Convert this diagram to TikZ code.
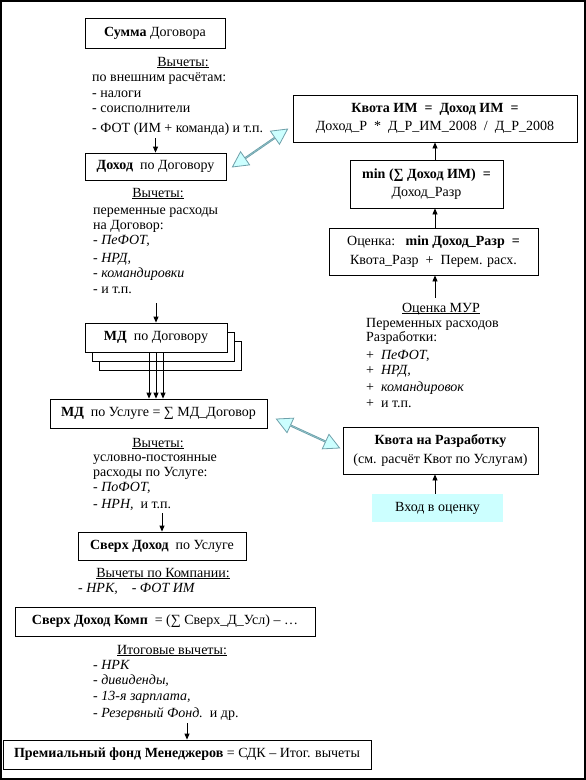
\documentclass[tikz,border=0pt]{standalone}
\usepackage{fontspec}
\setmainfont{Liberation Serif}
\usetikzlibrary{arrows.meta,shapes.arrows,calc}
\definecolor{lcyan}{RGB}{204,255,255}
\definecolor{arrline}{RGB}{110,160,170}
\newcommand{\ulx}[1]{\underline{\smash{#1}}}
\newcommand{\dblconn}[2]{\path let \p1=($(#2)-(#1)$), \n1={atan2(\y1,\x1)}, \n2={veclen(\x1,\y1)} in node[dbl, rotate=\n1, minimum height=\n2] (#1#2) at ($(#1)!0.5!(#2)$) {};}
\begin{document}
\begin{tikzpicture}[x=1pt,y=-1pt, font=\fontsize{14}{18.5}\selectfont,
 box/.style={draw, line width=0.8pt, fill=white, inner sep=0pt, align=center},
 lbl/.style={anchor=base west, inner sep=0pt},
 hd/.style={anchor=base, inner sep=0pt},
 arr/.style={line width=0.8pt, -{Triangle[length=6pt,width=5pt]}},
 dbl/.style={double arrow, draw=arrline, fill=lcyan, line width=0.8pt, inner sep=0pt, minimum width=16pt, double arrow head extend=4.5pt, double arrow tip angle=55},
 frame/.style={line width=2pt}
]
\useasboundingbox (0,0) rectangle (586,780);
\draw[frame] (1,1) rectangle (584.5,778.5);

% left column boxes
\node[box, minimum width=140pt, minimum height=30pt] (summa) at (155,33) {\textbf{Сумма} Договора};
\node[box, minimum width=141pt, minimum height=27pt] (dohod) at (155.5,166.5) {\textbf{Доход}\ \ по Договору};
\node[box, minimum width=142pt, minimum height=29pt] (md3) at (170,355.5) {\textbf{МД}\ \ по Договору};
\node[box, minimum width=142pt, minimum height=29pt] (md2) at (163,346.5) {\textbf{МД}\ \ по Договору};
\node[box, minimum width=142pt, minimum height=29pt] (md) at (156,337.5) {\textbf{МД}\ \ по Договору};
\node[box, minimum width=217pt, minimum height=29pt] (mdusl) at (158.5,413.5) {\textbf{МД}\ \ по Услуге = ∑ МД\_Договор};
\node[box, minimum width=168pt, minimum height=28pt] (sverh) at (162,546) {\textbf{Сверх Доход}\ \ по Услуге};
\node[box, minimum width=300pt, minimum height=29pt] (sverhkomp) at (165,621.5) {\textbf{Сверх Доход Комп}\ \ = (∑ Сверх\_Д\_Усл) – …};
\node[box, minimum width=368pt, minimum height=29pt] (prem) at (187,754.5) {\textbf{Премиальный фонд Менеджеров} = СДК – Итог. вычеты};

% right column boxes
\node[box, minimum width=284pt, minimum height=47pt] (kvotaIM) at (435,118.5) {\textbf{Квота ИМ\ \ =\ \ Доход ИМ\ \ =}\\Доход\_Р\ \ *\ \ Д\_Р\_ИМ\_2008\ \ /\ \ Д\_Р\_2008};
\node[box, minimum width=153pt, minimum height=48pt] (minb) at (426.5,184) {\textbf{min (∑ Доход ИМ)\ \ =}\\Доход\_Разр};
\node[box, minimum width=209pt, minimum height=47pt] (ocenka) at (433.5,251.5) {Оценка:\ \ \ \textbf{min Доход\_Разр\ \ =}\\Квота\_Разр\ \ +\ \ Перем. расх.};
\node[box, minimum width=195pt, minimum height=47pt] (kvotaRaz) at (440.5,450.5) {\textbf{Квота на Разработку}\\(см. расчёт Квот по Услугам)};
\node[fill=lcyan, inner sep=0pt, minimum width=131pt, minimum height=28pt] (vhod) at (437.5,508) {Вход в оценку};

% block 1
\node[hd] (h1) at (183,66) {\ulx{Вычеты:}};
\node[lbl] (l11) at (92,81) {по внешним расчётам:};
\node[lbl] (l12) at (92,97) {- налоги};
\node[lbl] (l13) at (92,112) {- соисполнители};
\node[lbl] (l14) at (92,132) {- ФОТ (ИМ + команда) и т.п.};

% block 2
\node[hd] (h2) at (158,197) {\ulx{Вычеты:}};
\node[lbl] (l21) at (93,214) {переменные расходы};
\node[lbl] (l22) at (93,229) {на Договор:};
\node[lbl] (l23) at (93,244) {- \textit{ПеФОТ,}};
\node[lbl] (l24) at (93,262) {- \textit{НРД,}};
\node[lbl] (l25) at (93,277) {- \textit{командировки}};
\node[lbl] (l26) at (93,293) {- и т.п.};

% block 3
\node[hd] (h3) at (158,447) {\ulx{Вычеты:}};
\node[lbl] (l31) at (93,461) {условно-постоянные};
\node[lbl] (l32) at (93,476) {расходы по Услуге:};
\node[lbl] (l33) at (93,491) {- \textit{ПоФОТ,}};
\node[lbl] (l34) at (93,508) {- \textit{НРН,}\ \ и т.п.};

% block 4
\node[hd] (h4) at (163,577) {\ulx{Вычеты по Компании:}};
\node[lbl] (l41) at (78,592) {\textit{- НРК,\quad - ФОТ ИМ}};

% block 5
\node[hd] (h5) at (172,654) {\ulx{Итоговые вычеты:}};
\node[lbl] (l51) at (93,669) {\textit{- НРК}};
\node[lbl] (l52) at (93,684) {\textit{- дивиденды,}};
\node[lbl] (l53) at (93,700) {\textit{- 13-я зарплата,}};
\node[lbl] (l54) at (93,717) {\textit{- Резервный Фонд.}\ \ и др.};

% right text block
\node[hd] (h6) at (441,312) {\ulx{Оценка МУР}};
\node[lbl] (r1) at (366,327) {Переменных расходов};
\node[lbl] (r2) at (366,341) {Разработки:};
\node[lbl] (r3) at (366,359) {+\ \ \textit{ПеФОТ,}};
\node[lbl] (r4) at (366,374) {+\ \ \textit{НРД,}};
\node[lbl] (r5) at (366,391) {+\ \ \textit{командировок}};
\node[lbl] (r6) at (366,407) {+\ \ и т.п.};

% arrow start coordinates
\path (l14.south -| dohod.north) ++(0,3) coordinate (s1);
\path (l26.south -| md.north) ++(0,10) coordinate (s2);
\path (l34.south -| sverh.north) ++(0,3) coordinate (s3);
\path (l54.south -| prem.north) ++(0,3) coordinate (s4);
\path (h6.north -| kvotaIM.south) ++(0,-14) coordinate (s5);

% left arrows
\draw[arr] (s1) -- (s1 |- dohod.north);
\draw[arr] (s2) -- (s2 |- md.north);
\foreach \dx in {-7,0,7} \draw[arr] ($(md.south)+(\dx,0)$) -- ($(md.south |- mdusl.north)+(\dx,0)$);
\draw[arr] (s3) -- (s3 |- sverh.north);
\draw[arr] (s4) -- (s4 |- prem.north);

% right arrows
\draw[arr] (kvotaIM.south |- minb.north) -- (kvotaIM.south);
\draw[arr] (kvotaIM.south |- ocenka.north) -- (kvotaIM.south |- minb.south);
\draw[arr] (s5) -- (s5 |- ocenka.south);
\draw[arr] (kvotaIM.south |- vhod.north) -- (kvotaIM.south |- kvotaRaz.south);

% double arrows
\coordinate (da1) at ($(dohod.east)+(6,0.5)$);
\coordinate (da2) at ($(kvotaIM.west)+(-5,10.5)$);
\coordinate (db1) at ($(mdusl.east)+(9,5.5)$);
\coordinate (db2) at ($(kvotaRaz.west)+(-3,-2.5)$);
\dblconn{da1}{da2}
\dblconn{db1}{db2}
\end{tikzpicture}
\end{document}
